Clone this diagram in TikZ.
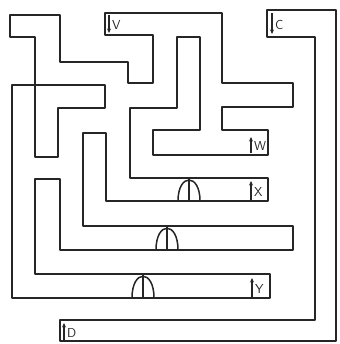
\documentclass[tikz,border=0pt]{standalone}
\usepackage{tikz}
\usetikzlibrary{arrows.meta}

\begin{document}
\begin{tikzpicture}[
    x=1pt, y=-1pt,
    wall/.style={draw=black!85, line width=1.8pt, line join=round},
    arch/.style={draw=black!85, line width=1.5pt},
    flow/.style={-{Stealth[length=4.5pt, width=4pt]}, draw=black!85, line width=1.2pt},
    lbl/.style={right, font=\sffamily\fontsize{13}{13}\selectfont, text=black!85, inner sep=1pt}
]

% Tamaño del lienzo (pixeles de la referencia)
\useasboundingbox (0,0) rectangle (339,344);

% ------------------------------------------------------------------------------
% 1. LABERINTO PRINCIPAL (una sola linea cerrada)
% ------------------------------------------------------------------------------
\draw[wall] (105,13) -- (222,13) -- (222,83) -- (293,83) -- (293,107)
    -- (222,107) -- (222,130) -- (268,130) -- (268,155) -- (153,155)
    -- (153,130) -- (200,130) -- (200,37) -- (177,37) -- (177,108)
    -- (130,108) -- (130,178) -- (268,178) -- (268,201) -- (106,201)
    -- (106,133) -- (83,133) -- (83,226) -- (293,226) -- (293,250)
    -- (60,250) -- (60,179) -- (35,179) -- (35,274) -- (270,274)
    -- (270,298) -- (12,298) -- (12,85) -- (105,85) -- (105,108)
    -- (58,108) -- (58,157) -- (35,157) -- (35,37) -- (10,37)
    -- (10,15) -- (60,15) -- (60,62) -- (128,62) -- (128,83)
    -- (153,83) -- (153,35) -- (105,35) -- cycle;

% ------------------------------------------------------------------------------
% 2. CANAL EXTERIOR (C -> D)
% ------------------------------------------------------------------------------
\draw[wall] (267,37) -- (267,10) -- (336,10) -- (336,341) -- (60,341) -- (60,320)
    -- (315,320) -- (315,37) -- cycle;

% ------------------------------------------------------------------------------
% 3. ARCOS (bucle)
% ------------------------------------------------------------------------------
\foreach \cx/\yb/\yt in {189/201/179, 167/250/227, 143/298/275} {
    \draw[arch] (\cx-11,\yb) .. controls (\cx-11,\yt-6) and (\cx+11,\yt-6) .. (\cx+11,\yb);
    \draw[arch] (\cx,\yt) -- (\cx,\yb);
}

% ------------------------------------------------------------------------------
% 4. ENTRADAS Y SALIDAS
% ------------------------------------------------------------------------------
\foreach \name/\x/\ya/\yb in {V/109/15/33, C/272/13/34, W/251/153/137,
                              X/251/200/181, Y/252/297/278, D/64/340/323} {
    \draw[flow] (\x,\ya) -- (\x,\yb);
    \node[lbl] (lbl\name) at (\x+2,{(\ya+\yb)/2+1}) {\name};
}

\end{tikzpicture}
\end{document}
